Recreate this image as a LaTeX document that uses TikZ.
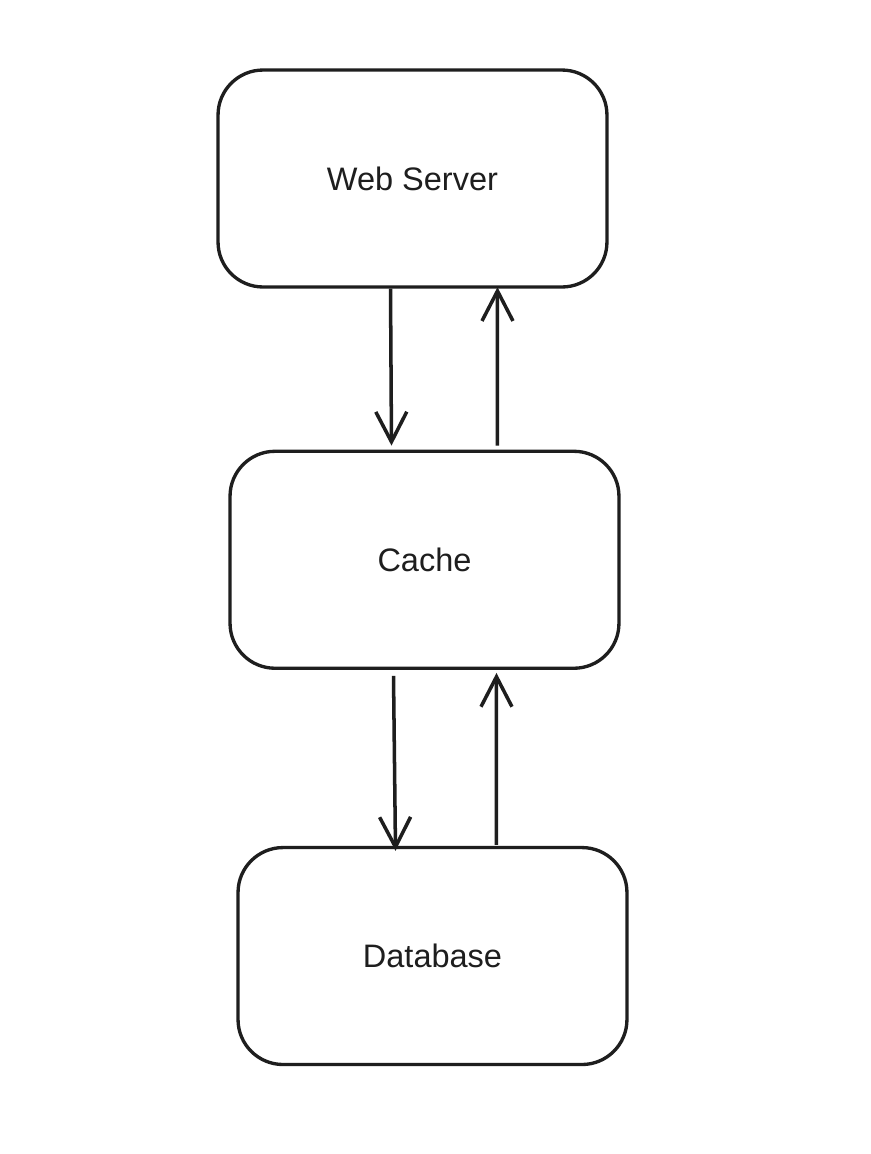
\documentclass[tikz,border=0pt]{standalone}
\usepackage{fontspec}
\setmainfont{Liberation Sans}
\usepackage{xcolor}
\usepackage{tikz}
\usetikzlibrary{arrows.meta,positioning}
\definecolor{StrokeInk}{HTML}{1E1E1E}
\definecolor{PaperWhite}{HTML}{FFFFFF}

\begin{document}
\begin{tikzpicture}[
        x=0.02cm, y=-0.02cm,
        tierbox/.style={
            draw=StrokeInk,
            fill=PaperWhite,
            line width=1.9pt,
            rounded corners=0.9cm,
            minimum width=7.78cm,
            minimum height=4.34cm,
            text=StrokeInk,
            font=\fontsize{18.5}{22}\selectfont
        },
        flow/.style={
            draw=StrokeInk,
            line width=2pt,
            -{Straight Barb[length=0.6cm,width=0.62cm,line width=2pt]}
        }
    ]
        \useasboundingbox[fill=PaperWhite] (0,0) rectangle (870,1154);

        \node[tierbox] (ws) at (412.5,178.5) {Web Server};
        \node[tierbox, below=3.22cm of ws, xshift=0.24cm] (cache) {Cache};
        \node[tierbox, below=3.52cm of cache, xshift=0.16cm] (db) {Database};

        % web server <-> cache
        \draw[flow] ([xshift=-0.44cm]ws.south) -- ([xshift=-0.66cm,yshift=0.08cm]cache.north);
        \draw[flow] ([xshift=1.46cm,yshift=0.08cm]cache.north) -- ([xshift=1.7cm,yshift=0.03cm]ws.south);

        % cache <-> database
        \draw[flow] ([xshift=-0.62cm,yshift=-0.12cm]cache.south) -- ([xshift=-0.74cm,yshift=-0.1cm]db.north);
        \draw[flow] ([xshift=1.28cm,yshift=0.02cm]db.north) -- ([xshift=1.44cm,yshift=-0.06cm]cache.south);
    \end{tikzpicture}
\end{document}
